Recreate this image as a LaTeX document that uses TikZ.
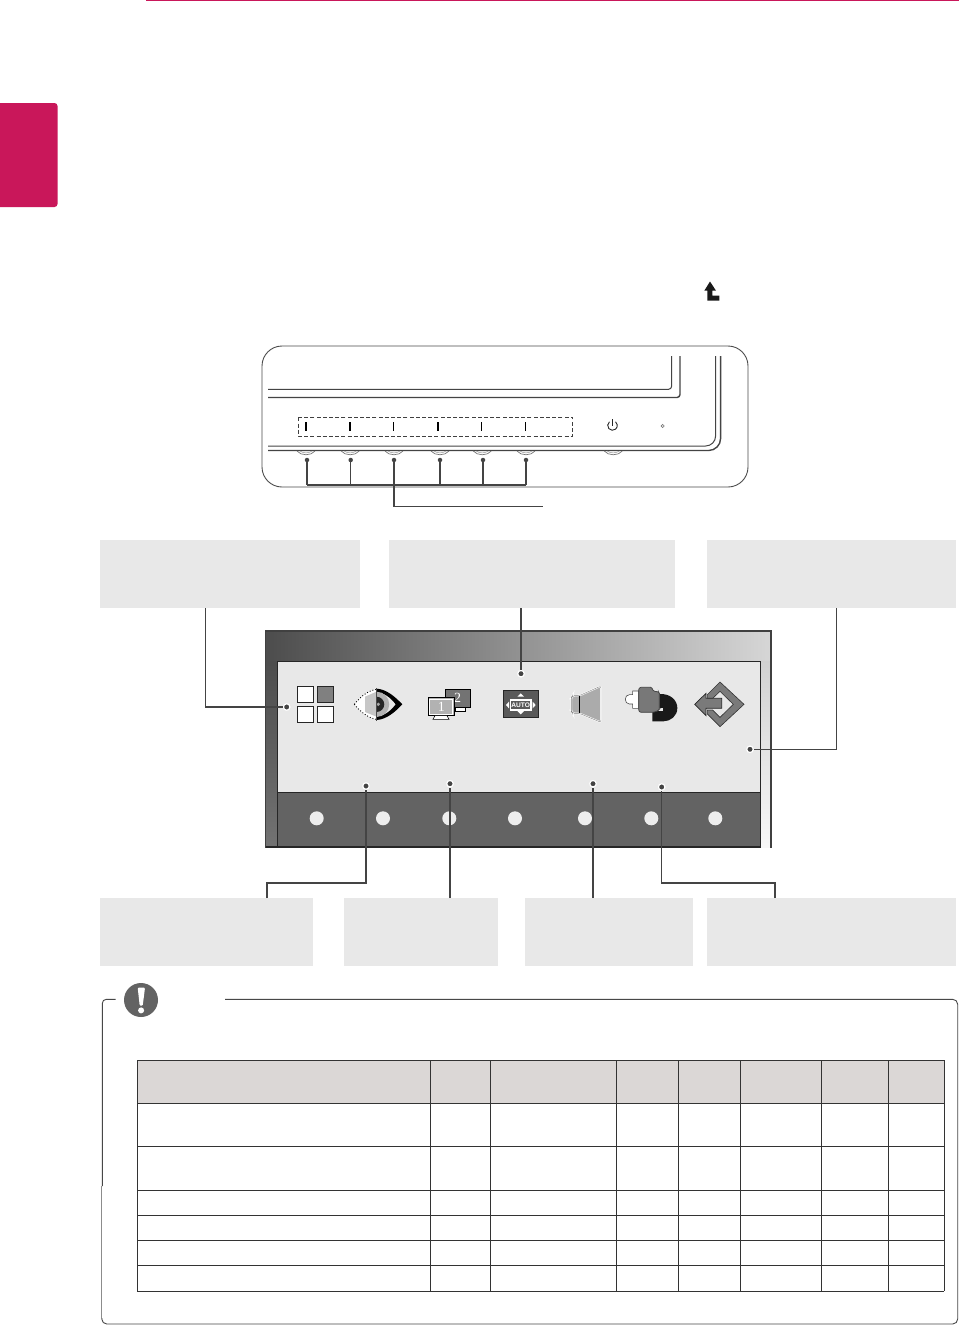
\documentclass[tikz,border=0pt]{standalone}
\usepackage{fontspec}
\setmainfont{Liberation Sans}
\newfontfamily\monofig{Liberation Serif}
\definecolor{lgpink}{HTML}{C9175A}
\definecolor{wirec}{HTML}{444444}
\definecolor{calloutc}{HTML}{E8E8E8}
\definecolor{thead}{HTML}{DBD7D6}
\definecolor{tline}{HTML}{333333}
\tikzset{
  callout/.style={draw=none,fill=calloutc,rectangle,inner sep=0pt,anchor=north west},
  wire/.style={draw=wirec,line width=1.5pt},
  bez/.style={draw=wirec,line width=1pt},
  bezthick/.style={draw=wirec,line width=1.4pt},
  dotmark/.style={circle,fill=wirec,draw=white,line width=1.2pt,inner sep=0pt,minimum size=6.5pt},
  smalldot/.style={circle,fill=wirec,inner sep=0pt,minimum size=4.5pt},
  softkey/.style={circle,fill=white!93!black,inner sep=0pt,minimum size=14pt},
  tick/.style={draw=black,line width=1.3pt},
  sq/.style={draw=black!85,line width=.8pt},
  zoomed/.style={x=0.33333pt,y=-0.33333pt},
  cellline/.style={draw=tline,line width=.8pt}
}
\begin{document}
\begin{tikzpicture}[x=1pt,y=-1pt]
\useasboundingbox (0,0) rectangle (959,1325);
\fill[white] (0,0) rectangle (959,1325);
% page furniture
\fill[lgpink] (146,0) rectangle (959,1);
\fill[lgpink,rounded corners=3pt] (-10,103) rectangle (57.5,207);
% up-arrow glyph
\fill[black!90] (710,281.5) -- (704.3,290.7) -- (707.3,290.7) -- (707.3,300.7) -- (719.3,300.7) -- (719.3,295.7) -- (712.3,295.7) -- (712.3,290.7) -- (716,290.7) -- cycle;
% ----- monitor front -----
\draw[draw=black!70,line width=.9pt,rounded corners=20pt] (262,346) rectangle (748,487);
\draw[bez,rounded corners=3pt] (268,389.3) -- (671.6,389.3) -- (671.6,356);
\draw[bezthick,rounded corners=3pt] (268,397.5) -- (680,397.5) -- (680,356);
\draw[bez,rounded corners=10pt] (268,446) -- (715.6,446) -- (715.6,356);
\draw[bezthick,rounded corners=12pt] (268,450.5) -- (720.6,450.5) -- (720.6,356);
\draw[draw=black!75,line width=.9pt,dash pattern=on 4pt off 2.2pt] (298,417.3) rectangle (572.7,436);
\foreach \tx/\tw in {306/1.5,350/1.5,393.3/.8,438/1.5,481.7/1.5,525.7/.8}
  \draw[tick,line width=\tw pt] (\tx,422.3) -- (\tx,430.7);
% power symbol and led
\draw[draw=black!85,line width=.9pt] (609.4,421.8) arc[start angle=130,end angle=410,radius=4.8pt];
\draw[draw=black!85,line width=.9pt] (612.5,419) -- (612.5,425.5);
\draw[draw=black!55,line width=.6pt] (662.7,426) circle[radius=1.6pt];
% hardware buttons
\foreach \bx in {306,350.2,394,440,482.3,526,613.3}{
  \draw[draw=black!55,line width=.7pt] (\bx-9,451) .. controls (\bx-5,456) and (\bx+5,456) .. (\bx+9,451);
  \draw[draw=black!40,line width=.5pt] (\bx-6,451) .. controls (\bx-3,453.5) and (\bx+3,453.5) .. (\bx+6,451);
}
% button callout
\node[smalldot] (b1) at (307,460) {};
\node[smalldot] (b2) at (350.7,460) {};
\node[smalldot] (b3) at (394,460) {};
\node[smalldot] (b4) at (440,460) {};
\node[smalldot] (b5) at (483,460) {};
\node[smalldot] (b6) at (526,460) {};
\coordinate (busL) at (307,485);
\coordinate (busR) at (526,485);
\coordinate (busEnd) at (543,506.7);
\draw[wire,line width=1.2pt] (busL) -- (busR);
\draw[wire,line width=1.4pt] (b1.center) -- (busL);
\draw[wire,line width=.9pt] (b2.center) -- (b2.center |- busL);
\draw[wire,line width=1.4pt] (b4.center) -- (b4.center |- busL);
\draw[wire,line width=1.4pt] (b5.center) -- (b5.center |- busL);
\draw[wire,line width=1.1pt] (b6.center) -- (busR);
\draw[wire,line width=1.3pt] (b3.center) |- (busEnd);
% ----- callout boxes -----
\node[callout,minimum width=260pt,minimum height=68pt] (c1) at (100,540) {};
\node[callout,minimum width=286pt,minimum height=68pt] (c2) at (389,540) {};
\node[callout,minimum width=249pt,minimum height=68pt] (c3) at (707,540) {};
\node[callout,minimum width=213pt,minimum height=68pt] (c4) at (100,898) {};
\node[callout,minimum width=154pt,minimum height=68pt] (c5) at (344,898) {};
\node[callout,minimum width=168pt,minimum height=68pt] (c6) at (525,898) {};
\node[callout,minimum width=249pt,minimum height=68pt] (c7) at (707,898) {};
% ----- OSD screen -----
\shade[left color=black!70,right color=black!16] (265.7,631) rectangle (771,661);
\shade[top color=black!70,bottom color=black!55] (265.7,661) rectangle (277.3,847);
\shade[top color=black!18,bottom color=black!3] (760.7,661) rectangle (771,847);
\fill[calloutc] (277.3,661) rectangle (760.7,792.3);
\fill[black!61] (277.3,792.3) rectangle (760.7,846);
\draw[draw=black!75,line width=1.2pt] (771,847.6) -- (771,631) -- (265.7,631) -- (265.7,847.6);
\draw[draw=black!85,line width=.9pt] (277.3,846) -- (277.3,661) -- (760.7,661) -- (760.7,846);
\draw[draw=black!85,line width=.8pt] (277.3,792.3) -- (760.7,792.3);
\draw[draw=black!85,line width=1.6pt] (265.7,847) -- (760.7,847);
\foreach \kx [count=\ki] in {316.7,383,449.3,515,585,651.3,715.3}
  \node[softkey] (key\ki) at (\kx,818.3) {};
% --- icon 1: four squares
\draw[sq,fill=white] (297.7,686.7) rectangle (313.7,702.7);
\draw[sq,fill=black!50] (317,686.7) rectangle (333,702.7);
\draw[sq,fill=white] (297.7,706) rectangle (313.7,722);
\draw[sq,fill=white] (317,706) rectangle (333,722);
% --- icon 2: eye
\begin{scope}[shift={(345,680)},zoomed]
  \fill[white] (28,73) .. controls (50,45) and (75,30) .. (95,28) -- (95,118) .. controls (75,116) and (50,100) .. (28,73) -- cycle;
  \fill[black!22] (60,50) -- (95,35) -- (95,110) -- (60,96) -- cycle;
  \draw[draw=black,line width=.9pt,dotted] (28,73) .. controls (50,45) and (75,30) .. (95,28);
  \draw[draw=black,line width=.9pt,dotted] (28,73) .. controls (50,100) and (75,116) .. (95,118);
  \fill[black] (95,26) .. controls (125,28) and (150,50) .. (172,73) .. controls (150,96) and (125,118) .. (95,120) -- (95,110) .. controls (118,108) and (138,92) .. (152,73) .. controls (138,54) and (118,38) .. (95,36) -- cycle;
  \begin{scope}
    \clip (95,0) rectangle (200,150);
    \fill[black!30] (95,73) circle[radius=12.6pt];
    \fill[black!85] (95,73) circle[radius=7.6pt];
  \end{scope}
  \fill[black!35] (100,73) circle[radius=1.8pt];
  \draw[draw=black!70,line width=1.4pt] (95,24) -- (95,122);
\end{scope}
% --- icon 3: two monitors
\begin{scope}[shift={(345,680)},zoomed]
  \draw[draw=black,line width=.8pt,fill=black!55] (302,28) rectangle (377,82);
  \draw[draw=black,line width=.6pt,fill=white] (330,82) rectangle (362,93);
  \node[text=white,inner sep=0pt,font=\monofig\fontsize{14}{14}\selectfont] (mon2) at (338,55) {2};
  \draw[draw=black,line width=.9pt,fill=black!30] (250,53) rectangle (327,107);
  \draw[draw=white,line width=.7pt] (254,57) rectangle (323,103);
  \draw[draw=black,line width=.6pt,fill=white] (270,107) -- (306,107) -- (312,118) -- (264,118) -- cycle;
  \node[text=white,inner sep=0pt,font=\monofig\fontsize{14}{14}\selectfont] (mon1) at (289,80) {1};
\end{scope}
% --- icon 4: AUTO
\begin{scope}[shift={(495,680)},zoomed]
  \draw[draw=black!85,line width=.8pt,fill=black!65] (25,30) rectangle (131,113);
  \draw[draw=white,line width=1.1pt] (46,60) rectangle (108,90);
  \node[text=white,inner sep=0pt,font=\bfseries\fontsize{6.6}{6.6}\selectfont] (autotxt) at (77,75) {AUTO};
  \fill[white] (77,40) -- (87,50) -- (67,50) -- cycle;
  \fill[white] (77,103) -- (87,93) -- (67,93) -- cycle;
  \fill[white] (33,75) -- (42,65) -- (42,85) -- cycle;
  \fill[white] (122,75) -- (113,65) -- (113,85) -- cycle;
\end{scope}
% --- icon 5: speaker
\begin{scope}[shift={(495,680)},zoomed]
  \draw[draw=white,line width=1.6pt,fill=black!33,rounded corners=2pt] (253,47) -- (232,47) -- (229,52) -- (229,95) -- (232,100) -- (253,100) -- (318,127) -- (318,18) -- cycle;
  \draw[draw=black!50,line width=.4pt,rounded corners=2pt] (253,47) -- (232,47) -- (229,52) -- (229,95) -- (232,100) -- (253,100) -- (318,127) -- (318,18) -- cycle;
  \draw[draw=black,line width=.8pt] (253,47) -- (253,100);
\end{scope}
% --- icon 6: plug
\begin{scope}[shift={(620,680)},zoomed]
  \fill[black!90] (118,42) .. controls (150,40) and (172,60) .. (172,84) .. controls (172,108) and (152,124) .. (130,124) -- (97,124) -- (97,96) -- (118,92) -- cycle;
  \fill[calloutc] (112,84) rectangle (130,94);
  \draw[draw=black!70,line width=.6pt,fill=white] (56,33) -- (38,33) -- (38,44) -- (28,44) .. controls (12,44) and (12,72) .. (28,72) -- (38,72) -- (38,85) -- (56,85) -- cycle;
  \draw[draw=black!75,line width=.7pt,fill=black!53,rounded corners=1pt] (60,22) -- (95,22) -- (100,33) -- (116,36) -- (118,40) -- (118,88) -- (114,92) -- (100,97) -- (60,97) -- (56,92) -- (56,27) -- cycle;
\end{scope}
% --- icon 7: return arrow
\begin{scope}[shift={(620,680)},zoomed]
  \draw[draw=black!80,line width=.6pt,fill=black!52] (262,44) -- (300,6) -- (372,73) -- (300,140) -- (262,102) -- (262,90) -- (278,90) -- (300,112) -- (340,73) -- (300,34) -- (278,55) -- (262,55) -- cycle;
  \draw[draw=black!85,line width=.7pt,fill=black!52] (224,73) -- (258,40) -- (258,55) -- (305,55) -- (305,85) -- (258,85) -- (258,107) -- cycle;
\end{scope}
% ----- OSD connectors -----
\node[dotmark] (d1) at (286.7,707) {};
\node[dotmark] (d2) at (521,673.7) {};
\node[dotmark] (d3) at (750,749.3) {};
\node[dotmark] (d4) at (366,786) {};
\node[dotmark] (d5) at (450,783.7) {};
\node[dotmark] (d6) at (593,783.7) {};
\node[dotmark] (d7) at (661.7,787) {};
\coordinate (c1tap) at (205.5,608);
\coordinate (c3tap) at (836.5,608);
\coordinate (c4tap) at (267,898);
\coordinate (c7tap) at (775,898);
\draw[wire] (c1tap) |- (d1);
\draw[wire] (d2 |- c2.south) -- (d2);
\draw[wire] (c3tap) |- (d3);
\draw[wire] (c4tap) -- (267,883) -| (d4);
\draw[wire] (d5 |- c5.north) -- (d5);
\draw[wire] (d6 |- c6.north) -- (d6);
\draw[wire] (c7tap) -- (775,883) -| (d7);
% ----- note frame -----
\coordinate (frA) at (115.7,999.3);
\coordinate (frB) at (225,999.3);
\draw[draw=black!72,line width=.9pt,rounded corners=4pt] (frA) -- (102.3,999.3) -- (102.3,1186);
\draw[draw=black!45,line width=.9pt] (101.8,1186) -- (101.8,1318);
\draw[draw=black!72,line width=.9pt,rounded corners=5pt] (101.8,1318) -- (101.8,1324) -- (957.7,1324) -- (957.7,999.3) -- (frB);
\node[circle,fill=black!61,inner sep=0pt,minimum size=34pt] (noteicon) at (141,1000) {};
\fill[white,rounded corners=1pt] (137.7,987.7) -- (145,987.7) -- (142.7,1005.7) -- (139.7,1005.7) -- cycle;
\fill[white] (141.1,1010.4) circle[radius=3pt];
% ----- table -----
\fill[thead] (137.3,1060.3) rectangle (944.3,1103.3);
\foreach \cx in {137.3,430.3,490.5,616.3,678.7,740.3,821.3,888.7,944.3}
  \draw[cellline] (\cx,1060.3) -- (\cx,1291.3);
\foreach \ry in {1060.3,1103.3,1146.3,1190.3,1215.3,1240.3,1265.3,1291.3}
  \draw[cellline] (137.3,\ry) -- (944.3,\ry);
\end{tikzpicture}
\end{document}
